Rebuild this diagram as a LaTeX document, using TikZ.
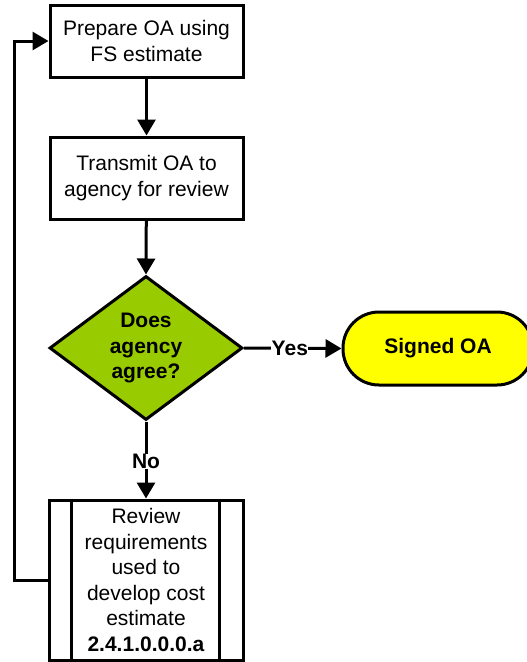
\documentclass[tikz,border=0pt]{standalone}
\usepackage{fontspec}
\setmainfont{Liberation Sans}
\usetikzlibrary{shapes.geometric,arrows.meta}
\definecolor{dgreen}{HTML}{99CC00}
\definecolor{tyellow}{HTML}{FFFF00}
\begin{document}
\begin{tikzpicture}[x=1pt,y=-1pt,
  every node/.style={font=\fontsize{21}{25.5}\selectfont},
  procbox/.style={draw,line width=3pt,rectangle,minimum width=193pt,align=center,inner sep=0pt,fill=white},
  decbox/.style={draw,line width=3pt,diamond,minimum width=193pt,minimum height=144pt,inner sep=0pt,fill=dgreen},
  termbox/.style={draw,line width=3pt,rectangle,rounded corners=36pt,minimum width=190pt,minimum height=73pt,fill=tyellow,font=\fontsize{21}{25.5}\selectfont\bfseries},
  flow/.style={line width=3pt,-{Triangle[length=16pt,width=18pt]}},
  lbl/.style={fill=white,inner sep=0.5pt,font=\fontsize{21}{25.5}\selectfont\bfseries}
]
\useasboundingbox (0,0) rectangle (527,662);
\node[procbox,minimum height=72pt] (b1) at (146.5,41) {Prepare OA using\\FS estimate};
\node[procbox,minimum height=82pt] (b2) at (146.5,178) {Transmit OA to\\agency for review};
\node[decbox] (d) at (146,348) {};
\node[align=center,font=\fontsize{21}{25.5}\selectfont\bfseries] (dt) at (146,348) {Does\\agency\\agree?};
\node[termbox] (t) at (438,348.5) {Signed OA};
\node[procbox,minimum width=194pt,minimum height=160pt] (b3) at (146,580) {Review\\requirements\\used to\\develop cost\\estimate\\\textbf{2.4.1.0.0.0.a}};
\draw[line width=3pt] ([xshift=24pt]b3.north west) -- ([xshift=24pt]b3.south west);
\draw[line width=3pt] ([xshift=-25pt]b3.north east) -- ([xshift=-25pt]b3.south east);
\coordinate (lb) at (14,580);
\coordinate (lt) at (14,41);
\draw[flow] (b1) -- (b2);
\draw[flow] (b2) -- (d.north);
\draw[flow] (d.east) -- node[lbl,pos=0.47] (yes) {Yes} (t.west);
\draw[flow] (d.south) -- node[lbl,pos=0.52] (no) {No} (b3.north);
\draw[flow] (b3.west) -- (lb) -- (lt) -- (b1.west);
\end{tikzpicture}
\end{document}
